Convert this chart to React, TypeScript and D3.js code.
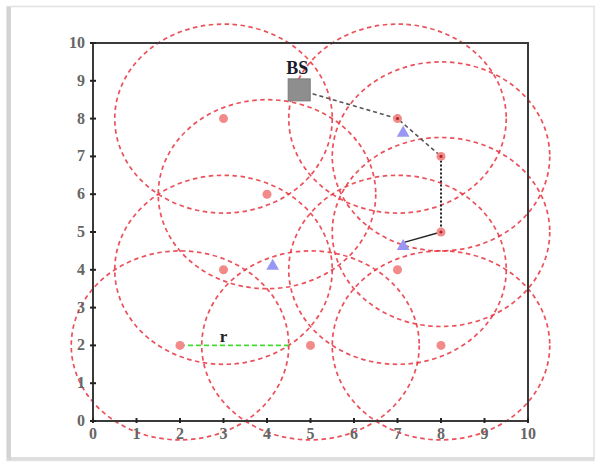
import React from "react";
import * as d3 from "d3";

// sensor nodes (circle centres), sensing radius
const nodeX = [3, 4, 3, 2, 5, 7, 8, 7, 8, 8];
const nodeY = [8, 6, 4, 2, 2, 4, 2, 8, 7, 5];
const radius = 2.5;

// targets (blue triangles)
const targetX = [7.13, 4.13, 7.13];
const targetY = [7.62, 4.1, 4.62];

// base station
const bsX = 4.74;
const bsY = 8.76;

// routing path: BS -> (7,8) -> (8,7) dashed, (8,7) -> (8,5) dotted, (8,5) -> target solid
const routeDashed: [number, number][] = [[bsX, bsY], [7, 8], [8, 7]];
const routeDotted: [number, number][] = [[8, 7], [8, 5]];
const routeSolid: [number, number][] = [[8, 5], [7.13, 4.72]];
const relayX = [7, 8, 8];
const relayY = [8, 7, 5];

const ticks = [0, 1, 2, 3, 4, 5, 6, 7, 8, 9, 10];

export default function App() {
    const x = d3.scaleLinear().domain([0, 10]).range([93, 528]);
    const y = d3.scaleLinear().domain([0, 10]).range([421, 43]);
    const rx = x(radius) - x(0);
    const ry = y(0) - y(radius);
    const line = d3.line<[number, number]>().x(d => x(d[0])).y(d => y(d[1]));
    const tri = d3.symbol().type(d3.symbolTriangle).size(70)();
    const font = "'Liberation Serif', 'DejaVu Serif', serif";

    return (
        <svg width={600} height={464} style={{ position: "absolute", left: 0, top: 0, background: "#fff" }}>
            {/* picture frame */}
            <rect x={7} y={6.5} width={587} height={454} fill="none" stroke="#e2e2e2" strokeWidth={1.5} />
            <rect x={7} y={7} width={4} height={453} fill="#cdcdcd" opacity={0.85} />
            <rect x={7} y={457} width={587} height={3} fill="#d6d6d6" opacity={0.8} />

            {/* sensing ranges */}
            {nodeX.map((cx, i) => (
                <ellipse key={"c" + i} cx={x(cx)} cy={y(nodeY[i])} rx={rx} ry={ry}
                    fill="none" stroke="#e8323e" strokeWidth={1.7} strokeDasharray="4.5,3.5" opacity={0.85} />
            ))}

            {/* plot box */}
            <rect x={x(0)} y={y(10)} width={x(10) - x(0)} height={y(0) - y(10)} fill="none" stroke="#3a3a3a" strokeWidth={2} />
            {ticks.map(t => (
                <g key={"t" + t}>
                    <line x1={x(t)} x2={x(t)} y1={y(0) - 3} y2={y(0) + 2} stroke="#222" strokeWidth={2} />
                    <line x1={x(0) - 3} x2={x(0) + 3} y1={y(t)} y2={y(t)} stroke="#222" strokeWidth={2} />
                    <text x={x(t)} y={y(0) + 18} textAnchor="middle" fontFamily={font} fontSize={16} fontWeight="bold" fill="#666">{t}</text>
                    <text x={x(0) - 8} y={y(t) + 5} textAnchor="end" fontFamily={font} fontSize={16} fontWeight="bold" fill="#666">{t}</text>
                </g>
            ))}

            {/* radius marker */}
            <line x1={x(nodeX[3])} x2={x(nodeX[3] + radius)} y1={y(nodeY[3])} y2={y(nodeY[3])}
                stroke="#44dd33" strokeWidth={1.8} strokeDasharray="5,3" />
            <text x={x(3)} y={y(2.1)} textAnchor="middle" fontFamily={font} fontSize={17} fontWeight="bold" fill="#222">r</text>

            {/* routing */}
            <path d={line(routeDashed) || ""} fill="none" stroke="#555" strokeWidth={1.6} strokeDasharray="4,3" />
            <path d={line(routeDotted) || ""} fill="none" stroke="#222" strokeWidth={2} strokeDasharray="2,2" />
            <path d={line(routeSolid) || ""} fill="none" stroke="#222" strokeWidth={1.3} />

            {/* sensor nodes */}
            {nodeX.map((cx, i) => (
                <circle key={"n" + i} cx={x(cx)} cy={y(nodeY[i])} r={4.5} fill="#f28a8a" />
            ))}
            {relayX.map((cx, i) => (
                <circle key={"r" + i} cx={x(cx)} cy={y(relayY[i])} r={1.6} fill="#b02828" />
            ))}

            {/* targets */}
            {targetX.map((tx, i) => (
                <path key={"tg" + i} d={tri || ""} transform={`translate(${x(tx)},${y(targetY[i])})`} fill="#9898f4" />
            ))}

            {/* base station */}
            <rect x={x(bsX) - 11} y={y(bsY) - 11} width={22} height={22} fill="#8e8e8e" stroke="#7a7a7a" />
            <text x={x(bsX) - 2} y={y(bsY) - 16} textAnchor="middle" fontFamily={font} fontSize={18} fontWeight="bold" fill="#1a1a2a">BS</text>
        </svg>
    );
}
